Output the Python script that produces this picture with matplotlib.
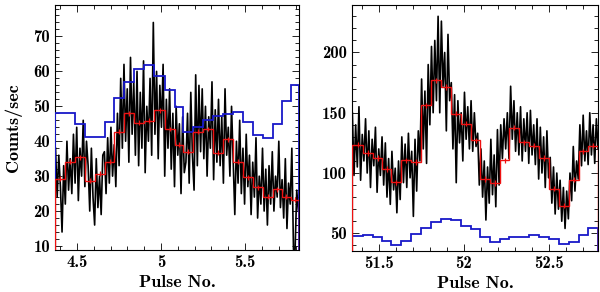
import numpy as np
import matplotlib
matplotlib.use("Agg")
from matplotlib import pyplot as plt
from matplotlib.ticker import MultipleLocator

plt.rcParams['font.family'] = ['cmb10', 'DejaVu Serif']
plt.rcParams['axes.unicode_minus'] = False

# ---- left panel: pulses 4.4 - 5.8 ----
t_left_start, t_left_end = 4.372, 5.817
counts_left = [
    38, 24, 36, 27, 14, 33, 22, 40, 26, 35,
    25, 42, 28, 44, 23, 38, 30, 46, 27, 40,
    33, 20, 38, 24, 16, 35, 21, 30, 19, 36,
    37, 25, 41, 28, 44, 30, 39, 27, 48, 33,
    58, 38, 62, 40, 55, 34, 64, 42, 57, 36,
    60, 33, 54, 38, 63, 31, 50, 40, 58, 36,
    74, 42, 60, 35, 56, 44, 62, 30, 52, 38,
    55, 32, 48, 27, 50, 36, 45, 25, 47, 31,
    34, 48, 28, 54, 36, 26, 59, 33, 56, 37,
    55, 35, 50, 30, 47, 38, 57, 29, 49, 34,
    52, 33, 47, 28, 55, 36, 44, 30, 50, 34,
    19, 40, 28, 46, 25, 38, 22, 42, 27, 36,
    19, 34, 24, 41, 18, 30, 22, 38, 20, 32,
    16, 33, 22, 37, 20, 30, 24, 40, 21, 29,
    18, 35, 15, 28, 22, 38, 9, 9, 26, 20,
]
edges_left = [4.369, 4.429, 4.488, 4.548, 4.607, 4.667, 4.722, 4.780, 4.839,
              4.899, 4.958, 5.024, 5.083, 5.133, 5.192, 5.252, 5.311, 5.371,
              5.430, 5.490, 5.549, 5.609, 5.665, 5.718, 5.774, 5.821]
binned_left = [29.3, 34.1, 35.4, 28.7, 30.7, 34.1, 42.7, 48.0, 45.3, 45.9,
               48.8, 43.5, 39.0, 37.0, 42.7, 43.5, 36.7, 40.6, 34.1, 29.7,
               26.8, 24.1, 26.2, 24.1, 23.3]
other_left = [48.2, 48.2, 44.9, 41.3, 41.3, 45.6, 52.4, 56.9, 60.8, 61.8,
              58.6, 54.6, 49.9, 42.7, 44.0, 46.1, 47.3, 47.8, 48.3, 45.6,
              41.8, 40.9, 44.9, 51.4, 56.0]

# ---- right panel: pulses 51.35 - 52.8 ----
t_right_start, t_right_end = 51.345, 52.790
counts_right = [
    150, 98, 140, 105, 155, 94, 132, 110, 145, 100,
    135, 88, 128, 106, 138, 84, 120, 98, 130, 90,
    125, 80, 112, 74, 118, 86, 104, 67, 110, 78,
    130, 92, 124, 88, 133, 96, 118, 64, 128, 85,
    135, 110, 178, 120, 168, 108, 190, 140, 205, 150,
    210, 160, 230, 150, 226, 172, 200, 135, 215, 160,
    175, 120, 165, 92, 160, 125, 150, 110, 167, 128,
    155, 120, 160, 118, 150, 122, 133, 90, 120, 80,
    110, 61, 105, 75, 128, 82, 115, 72, 136, 90,
    140, 112, 145, 120, 150, 112, 172, 128, 160, 118,
    150, 115, 155, 110, 145, 118, 150, 108, 152, 115,
    140, 107, 145, 95, 138, 100, 130, 88, 135, 96,
    113, 75, 105, 66, 100, 70, 94, 60, 88, 54,
    85, 62, 100, 77, 122, 85, 110, 95, 140, 106,
    148, 110, 135, 107, 150, 115, 140, 108, 145, 120,
]
edges_right = [51.343, 51.408, 51.467, 51.521, 51.574, 51.633, 51.692, 51.747,
               51.806, 51.865, 51.924, 51.982, 52.041, 52.098, 52.156, 52.215,
               52.268, 52.327, 52.386, 52.445, 52.504, 52.562, 52.621, 52.676,
               52.731, 52.790]
binned_right = [123.6, 116.7, 112.5, 103.3, 92.2, 110.5, 109.2, 156.3, 176.9,
                171.4, 149.2, 140.8, 127.2, 95.0, 91.7, 110.5, 137.5, 125.5,
                122.8, 112.5, 86.9, 72.8, 94.4, 118.0, 122.8]
other_right = [47.8, 48.6, 46.7, 43.9, 40.3, 43.9, 49.2, 54.2, 59.7, 61.9,
               61.1, 56.1, 53.3, 46.7, 43.0, 45.0, 47.2, 47.2, 48.6, 47.2,
               45.0, 41.1, 43.0, 48.6, 54.2]

red = "#ee1111"
blue = "#1818c8"

fig = plt.figure(figsize=(6, 2.92), dpi=100)
ax1 = fig.add_axes([0.0917, 0.1438, 0.4067, 0.839])
ax2 = fig.add_axes([0.5867, 0.1404, 0.41, 0.8425])


def draw_panel(ax, t0, t1, counts, edges, binned, other, err):
    t = np.linspace(t0, t1, len(counts))
    ax.plot(t, counts, color="black", lw=1.2, zorder=2)
    ax.stairs(other, edges, color=blue, lw=1.3, zorder=3)
    ax.stairs(binned, edges, color=red, lw=1.0, zorder=4)
    centers = 0.5 * (np.array(edges[:-1]) + np.array(edges[1:]))
    ax.errorbar(centers, binned, yerr=err, fmt="none", ecolor=red,
                elinewidth=0.9, capsize=0, zorder=4)
    ax.tick_params(which="both", direction="in", top=True, right=True,
                   labelsize=12, width=0.6)
    ax.tick_params(which="major", length=5)
    ax.tick_params(which="minor", length=3)
    ax.set_xlabel("Pulse No.", fontsize=13, labelpad=4)


draw_panel(ax1, t_left_start, t_left_end, counts_left, edges_left,
           binned_left, other_left, 0.7)
# histogram rises from zero at the first edge
ax1.vlines(edges_left[0], 0, other_left[0], color=blue, lw=1.3, zorder=3)
ax1.set_xlim(4.369, 5.821)
ax1.set_ylim(8.85, 79)
ax1.xaxis.set_minor_locator(MultipleLocator(0.1))
ax1.yaxis.set_major_locator(MultipleLocator(10))
ax1.yaxis.set_minor_locator(MultipleLocator(2))
ax1.set_xticks([4.5, 5, 5.5], ["4.5", "5", "5.5"])
ax1.set_ylabel("Counts/sec", fontsize=13, labelpad=8)

draw_panel(ax2, t_right_start, t_right_end, counts_right, edges_right,
           binned_right, other_right, 2.2)
ax2.vlines(edges_right[0], 0, binned_right[0], color=red, lw=1.2, zorder=4)
ax2.set_xlim(51.343, 52.790)
ax2.set_ylim(35.3, 239.4)
ax2.xaxis.set_minor_locator(MultipleLocator(0.1))
ax2.set_xticks([51.5, 52, 52.5], ["51.5", "52", "52.5"])
ax2.yaxis.set_major_locator(MultipleLocator(50))
ax2.yaxis.set_minor_locator(MultipleLocator(10))

fig.savefig("out.png", dpi=100)
